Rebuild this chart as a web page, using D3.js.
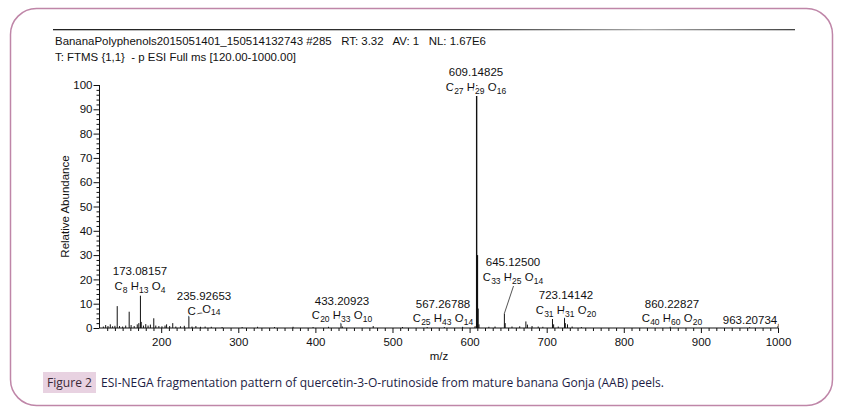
<!DOCTYPE html>
<html><head><meta charset="utf-8">
<script src="https://cdn.jsdelivr.net/npm/d3@7"></script>
<style>
html,body{margin:0;padding:0;background:#fff;}
svg{display:block;font-family:"Liberation Sans",Arial,sans-serif;}
</style></head>
<body>
<svg id="c" width="849" height="412"></svg>
<script>
// ---- data ----
const headerLines = [
  "BananaPolyphenols2015051401_150514132743 #285   RT: 3.32   AV: 1   NL: 1.67E6",
  "T: FTMS {1,1}  - p ESI Full ms [120.00-1000.00]"
];
const xTickLabels = [200,300,400,500,600,700,800,900,1000];
const yTickLabels = [0,10,20,30,40,50,60,70,80,90,100];
const peakMz = [125,128,131,134,137,140,143,146,150,154,158.5,161,165,169,171,173.08,174.1,177,180,183,186,190.4,193,197,201,205,207,211,215,219,225,230,235.93,240,245,251,257,265,279,305,325,347,371,397,417,433.21,435,475,513,545,567.27,591,607,609.15,610.15,611.15,612.15,625,633,645.13,646.13,655,665,673,675,681,689,695,707.5,709,715,723.14,724.14,727,733,745,860.23,963.21];
const peakAbund = [0.6,1.2,0.8,1.5,0.7,0.9,9.0,0.8,0.6,1.0,6.7,1.2,0.8,1.5,2.0,13.3,2.5,1.0,1.6,1.0,1.4,4.0,1.0,0.8,0.7,1.0,1.5,0.8,2.0,0.6,0.7,0.9,5.3,0.6,0.8,0.5,0.6,0.5,0.4,0.4,0.5,0.4,0.5,0.4,0.5,3.3,0.6,0.8,0.4,0.4,1.2,0.6,0.8,100,30,8,1.5,0.5,0.6,6.0,2.0,0.6,0.7,2.7,1.4,0.8,0.6,0.5,4.0,1.5,0.6,5.7,2.0,1.5,0.6,0.4,0.5,0.3];
const annMz = ["609.14825","173.08157","235.92653","433.20923","567.26788","645.12500","723.14142","860.22827","963.20734"];
const annFormula = [
  [["C","27"],["H","29"],["O","16"]],
  [["C","8"],["H","13"],["O","4"]],
  [["C",""],["O","14"]],
  [["C","20"],["H","33"],["O","10"]],
  [["C","25"],["H","43"],["O","14"]],
  [["C","33"],["H","25"],["O","14"]],
  [["C","31"],["H","31"],["O","20"]],
  [["C","40"],["H","60"],["O","20"]],
  []
];
const figLabel = "Figure 2";
const caption = "ESI-NEGA fragmentation pattern of quercetin-3-O-rutinoside from mature banana Gonja (AAB) peels.";

// ---- layout (not data) ----
const annPos = [ // [centerX, numberBaseline, formulaBaseline]
  [476,76,91],[140,275,290],[204,300,315],[342,305,319],[443,308,322],[513,266,281],[566,299,314],[672,308,322],[750,324,0]
];

const svg = d3.select("#c");
// card
svg.append("rect").attr("x",10.5).attr("y",8.5).attr("width",822).attr("height",397)
  .attr("rx",26).attr("fill","#fff").attr("stroke","#bf86a8").attr("stroke-width",1.5);

// header rule
const grad = svg.append("defs").append("linearGradient").attr("id","hg");
grad.append("stop").attr("offset","0").attr("stop-color","#222");
grad.append("stop").attr("offset","0.55").attr("stop-color","#333");
grad.append("stop").attr("offset","0.8").attr("stop-color","#aaa");
grad.append("stop").attr("offset","1").attr("stop-color","#444");
svg.append("rect").attr("x",53).attr("y",29).attr("width",742).attr("height",1.3).attr("fill","url(#hg)");

svg.selectAll("text.hdr").data(headerLines).enter().append("text").attr("class","hdr")
  .attr("x",55).attr("y",(d,i)=>45+i*15.5).attr("font-size",11.45).attr("fill","#111")
  .style("white-space","pre").text(d=>d);

const x = d3.scaleLinear().domain([120,1000]).range([99.5,778]);
const y = d3.scaleLinear().domain([0,100]).range([328,85]);

// x axis
const gx = svg.append("g").attr("transform","translate(0,328)");
gx.call(d3.axisBottom(x).tickValues(xTickLabels).tickSize(5).tickFormat(d3.format("d")));
const gxm = svg.append("g").attr("transform","translate(0,328)");
gxm.call(d3.axisBottom(x).tickValues(d3.range(130,1000,10).filter(v=>v%100!==0)).tickSize(3).tickFormat(""));
gxm.select(".domain").remove();
gx.select(".domain").attr("d",`M${x(120)},0H${x(1000)}V-5`);
gx.selectAll("text").attr("font-size",11.5).attr("fill","#111").attr("dy","0.9em").attr("font-family","Liberation Sans, Arial, sans-serif");

// y axis
const gy = svg.append("g").attr("transform",`translate(${x(120)},0)`);
gy.call(d3.axisLeft(y).tickValues(yTickLabels).tickSize(6).tickFormat(d3.format("d")).tickPadding(1));
const gym = svg.append("g").attr("transform",`translate(${x(120)},0)`);
gym.call(d3.axisLeft(y).tickValues(d3.range(2,100,2).filter(v=>v%10!==0)).tickSize(3).tickFormat(""));
gym.select(".domain").remove();
gy.select(".domain").attr("d",`M0,${y(100)}V${y(0)}`);
gy.selectAll("text").attr("font-size",11.5).attr("fill","#111").attr("font-family","Liberation Sans, Arial, sans-serif");
svg.selectAll(".domain").attr("stroke","#111");
svg.selectAll(".tick line").attr("stroke","#111");

svg.append("text").attr("transform",`translate(69,${y(50)}) rotate(-90)`).attr("text-anchor","middle")
  .attr("font-size",11.5).attr("fill","#111").text("Relative Abundance");
svg.append("text").attr("x",439).attr("y",360).attr("text-anchor","middle").attr("font-size",11.5).attr("fill","#111").text("m/z");

// peaks
const peaks = peakMz.map((m,i)=>({m,a:peakAbund[i]}));
svg.append("g").selectAll("line").data(peaks).enter().append("line")
  .attr("x1",d=>x(d.m)).attr("x2",d=>x(d.m)).attr("y1",y(0)).attr("y2",d=>y(d.a))
  .attr("stroke","#111").attr("stroke-width",d=>d.a>20?1.4:1);

// connector lines
const pk = m => peaks.find(d=>d.m===m);
const c235 = pk(235.93), c645 = pk(645.13), c567 = pk(567.27);
svg.append("path").attr("d",`M${x(c235.m)},${y(c235.a)}L${x(c235.m)+15},${y(c235.a)-2.5}`).attr("stroke","#555").attr("fill","none");
svg.append("path").attr("d",`M${x(c645.m)},${y(c645.a)}L${x(c645.m)+10},${y(c645.a)-30}`).attr("stroke","#555").attr("fill","none");
svg.append("path").attr("d",`M${x(c567.m)},${y(c567.a)}L${x(c567.m)+4},${y(c567.a)-3}`).attr("stroke","#555").attr("fill","none");

// annotations (with white halo so they sit over the peak)
annMz.forEach((t,i)=>{
  const p = annPos[i];
  svg.append("text").attr("x",p[0]).attr("y",p[1]).attr("text-anchor","middle").attr("font-size",11.5).attr("fill","#111")
    .attr("stroke","#fff").attr("stroke-width",4).attr("paint-order","stroke").text(t);
  if(annFormula[i].length){
    const tx = svg.append("text").attr("x",p[0]).attr("y",p[2]).attr("text-anchor","middle").attr("font-size",11.5).attr("fill","#111")
      .attr("stroke","#fff").attr("stroke-width",4).attr("paint-order","stroke").style("white-space","pre");
    annFormula[i].forEach((e,j)=>{
      tx.append("tspan").attr("dy",j===0?0:-2.5).text((j?" ":"")+e[0]+(e[1]?"":" "));
      if(e[1]) tx.append("tspan").attr("font-size",8.5).attr("dy",2.5).text(e[1]);
    });
  }
});

// caption
svg.append("rect").attr("x",43).attr("y",372).attr("width",53).attr("height",21).attr("fill","#e8d2e1");
svg.append("text").attr("x",47).attr("y",387).attr("font-size",12.5).attr("font-family","Open Sans, sans-serif")
  .attr("fill","#3a2a38").attr("textLength",45).attr("lengthAdjust","spacingAndGlyphs").text(figLabel);
svg.append("text").attr("x",101).attr("y",387).attr("font-size",12.5).attr("font-family","Open Sans, sans-serif")
  .attr("fill","#1d1d45").attr("textLength",563).attr("lengthAdjust","spacingAndGlyphs").text(caption);
</script>
</body></html>
